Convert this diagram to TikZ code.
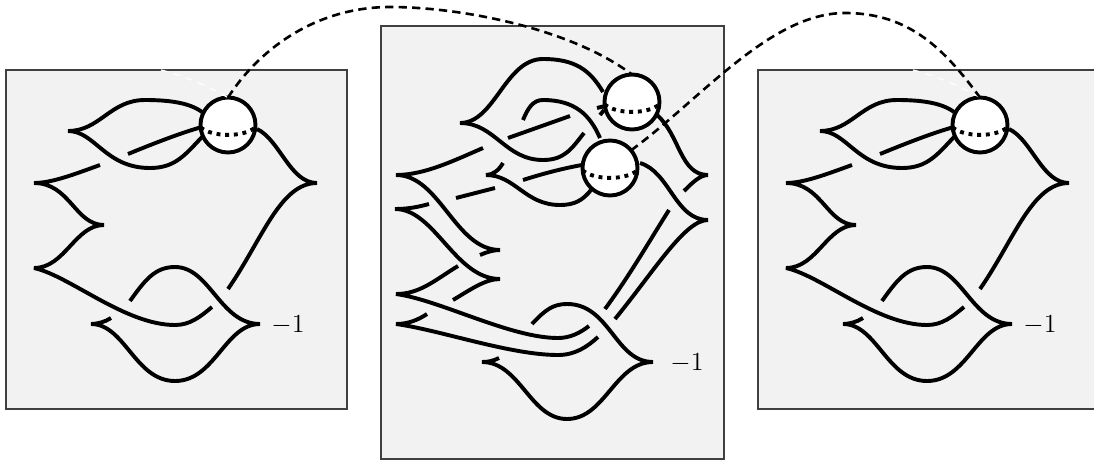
\documentclass[tikz,border=0pt]{standalone}
\tikzset{
	panel/.style={draw=black!75,fill=black!5,line width=0.5pt},
	strand/.style={line width=1.8pt,line join=bevel},
	ball/.style={circle,draw,fill=white,line width=1.8pt,minimum size=25.3pt,inner sep=0pt,outer sep=0pt},
	seam/.style={line width=1.8pt,dash pattern=on 1.8pt off 2.2pt},
	tube/.style={line width=1.2pt,dash pattern=on 3.8pt off 2.4pt},
	hidden/.style={white,line width=0.6pt,dashed},
	framing/.style={font=\large}
}
\begin{document}
\begin{tikzpicture}[x=0.46pt,y=-0.46pt]
	\useasboundingbox (0,0) rectangle (1094,462);

	\foreach \dx/\ballname in {0/ballA,752/ballD} {
		\begin{scope}[shift={(\dx,0)}]
			\draw[panel] (6,70) rectangle (347,409);
			% upper lobe
			\draw[strand] (68,131) .. controls (100,131) and (110,100) .. (145,100) .. controls (170,100) and (190,103) .. (202,112);
			\draw[strand] (68,131) .. controls (95,131) and (105,168) .. (150,168) .. controls (175,168) and (185,155) .. (202,137);
			\draw[strand] (128,154) .. controls (150,145) and (180,133) .. (202,127);
			% left zigzag
			\draw[strand] (100,165) .. controls (75,174) and (52,183) .. (34,183) .. controls (70,183) and (75,225) .. (104,225) .. controls (75,225) and (65,268) .. (34,268) .. controls (70,276) and (125,325) .. (175,325) .. controls (190,325) and (200,317) .. (212,307);
			% clasp
			\draw[strand] (130,301) .. controls (145,280) and (155,267) .. (175,267) .. controls (210,267) and (220,324) .. (260,324) .. controls (225,324) and (215,381) .. (175,381) .. controls (135,381) and (125,324) .. (91,324) .. controls (97,324) and (105,322) .. (111,318);
			% right side
			\draw[strand] (257,129) .. controls (280,140) and (290,183) .. (317,183) .. controls (280,183) and (262,240) .. (228,289);
			\node[framing] at (288,325) {$-1$};
			\node[ball] (\ballname) at (228,125) {};
			\draw[seam] (\ballname.185) .. controls +(12,10) and +(-12,10) .. (\ballname.355);
			\draw[hidden] (161,70) .. controls (185,76) and (205,85) .. (\ballname.north);
		\end{scope}
	}

	\draw[panel] (381,26) rectangle (724,459);
	% upper lobes
	\draw[strand] (460,123) .. controls (495,123) and (505,59) .. (543,59) .. controls (575,59) and (590,70) .. (603,92);
	\draw[strand] (460,123) .. controls (495,123) and (505,160) .. (543,160) .. controls (565,160) and (572,148) .. (584,133);
	\draw[strand] (600,115) -- (604,110);
	\draw[strand] (486,175) .. controls (493,175) and (499,170) .. (503,163);
	\draw[strand] (523,120) .. controls (528,108) and (533,100) .. (543,100) .. controls (575,100) and (590,115) .. (600,138);
	\draw[strand] (486,175) .. controls (515,175) and (525,205) .. (560,205) .. controls (575,205) and (583,200) .. (591,190);
	% front strands
	\draw[strand] (396,175) .. controls (425,175) and (455,160) .. (483,148);
	\draw[strand] (508,138) -- (570,116);
	\draw[strand] (597,108) -- (605,106);
	\draw[strand] (395,209) .. controls (408,209) and (418,207) .. (429,204);
	\draw[strand] (456,198) -- (495,188);
	\draw[strand] (523,180) .. controls (545,173) and (565,168) .. (582,165);
	% left zigzags
	\draw[strand] (396,175) .. controls (440,175) and (455,250) .. (500,250) .. controls (493,250) and (487,252) .. (480,255);
	\draw[strand] (395,209) .. controls (435,209) and (455,279) .. (500,279) .. controls (485,279) and (470,290) .. (453,300);
	\draw[strand] (458,266) .. controls (435,280) and (420,294) .. (396,294) .. controls (440,300) and (510,338) .. (558,338) .. controls (570,338) and (580,333) .. (589,326);
	\draw[strand] (427,314) .. controls (418,320) and (408,324) .. (396,324) .. controls (440,330) and (510,355) .. (558,355) .. controls (575,355) and (587,347) .. (598,337);
	% clasp
	\draw[strand] (532,324) .. controls (545,310) and (553,304) .. (567,304) .. controls (610,304) and (615,362) .. (653,362) .. controls (615,362) and (605,419) .. (567,419) .. controls (530,419) and (520,362) .. (482,362) .. controls (488,362) and (493,361) .. (499,358);
	% right side
	\draw[strand] (657,115) .. controls (680,135) and (680,175) .. (708,175) .. controls (700,175) and (692,183) .. (684,191);
	\draw[strand] (640,163) .. controls (670,172) and (675,220) .. (708,220) .. controls (685,220) and (655,270) .. (615,319);
	\draw[strand] (669,210) .. controls (650,240) and (630,275) .. (605,309);
	\node[framing] at (687,363) {$-1$};
	\node[ball] (ballB) at (632,102) {};
	\draw[seam] (ballB.185) .. controls +(12,10) and +(-12,10) .. (ballB.355);
	\node[ball] (ballC) at (610,168) {};
	\draw[seam] (ballC.185) .. controls +(12,10) and +(-12,10) .. (ballC.355);

	\draw[tube] (ballA.north) .. controls (262,45) and (320,7) .. (390,7) .. controls (460,7) and (570,28) .. (ballB.north);
	\draw[tube] (ballC.40) .. controls (700,100) and (770,13) .. (845,13) .. controls (910,13) and (945,50) .. (ballD.north);
\end{tikzpicture}
\end{document}
